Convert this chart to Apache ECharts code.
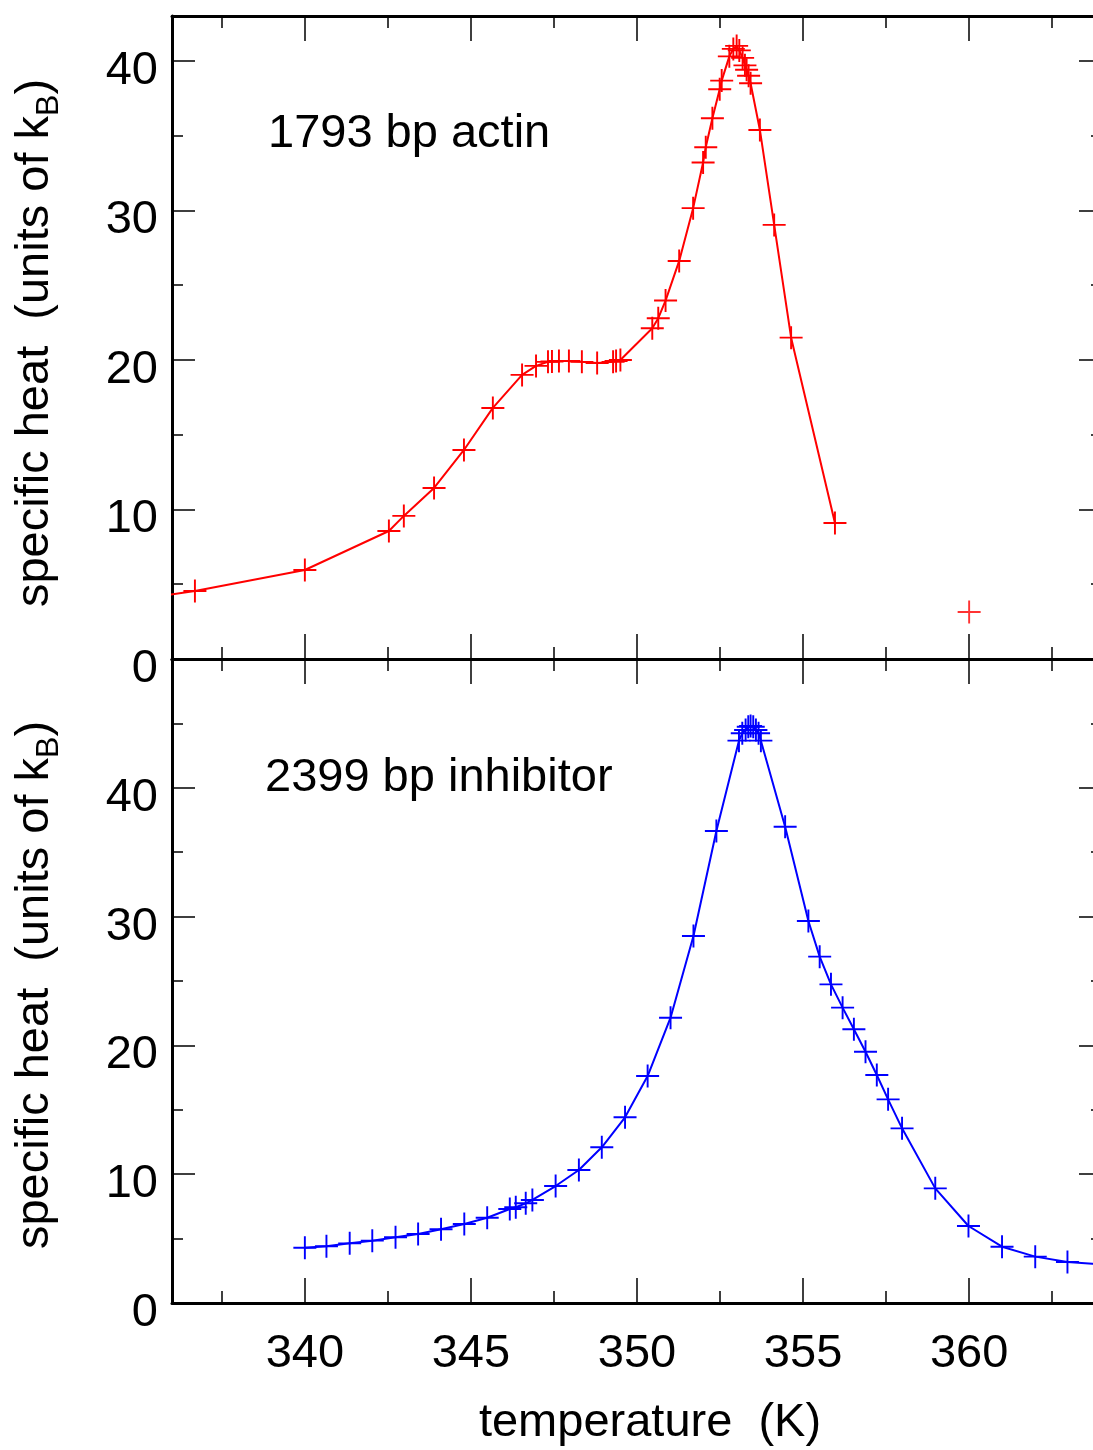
<!DOCTYPE html>
<html>
<head>
<meta charset="utf-8">
<script src="https://cdn.jsdelivr.net/npm/echarts@6/dist/echarts.min.js"></script>
<style>html,body{margin:0;padding:0;background:#fff;overflow:hidden}#c{width:1112px;height:1450px}</style>
</head>
<body>
<div id="c"></div>
<script>
// ---- data ----
const actinTemp = [335.0, 336.69, 340.0, 342.53, 342.98, 343.89, 344.79, 345.66, 346.54, 346.96, 347.32, 347.44, 347.65, 347.95, 348.34, 348.80, 349.28, 349.37, 349.50, 350.46, 350.64, 350.86, 351.27, 351.69, 351.99, 352.07, 352.27, 352.49, 352.55, 352.78, 352.90, 353.00, 353.08, 353.18, 353.25, 353.30, 353.36, 353.42, 353.70, 354.13, 354.64, 355.96];
const actinHeat = [4.0, 4.55, 5.95, 8.56, 9.57, 11.44, 13.98, 16.79, 19.0, 19.6, 19.87, 19.9, 19.93, 19.93, 19.87, 19.8, 19.87, 19.93, 20.0, 22.12, 22.79, 23.97, 26.62, 30.15, 33.2, 34.22, 36.16, 38.1, 38.68, 40.3, 40.8, 41.0, 40.7, 40.2, 39.7, 39.4, 39.0, 38.5, 35.38, 29.03, 21.49, 9.1];
const actinOutlierTemp = [360.0];
const actinOutlierHeat = [3.14];

const inhibTemp = [340.0, 340.65, 341.35, 342.03, 342.73, 343.41, 344.1, 344.8, 345.49, 346.17, 346.35, 346.65, 346.85, 347.55, 348.25, 348.94, 349.64, 350.32, 351.01, 351.7, 352.39, 353.07, 353.17, 353.27, 353.35, 353.42, 353.5, 353.58, 353.66, 353.73, 354.46, 355.16, 355.5, 355.84, 356.19, 356.53, 356.88, 357.22, 357.56, 357.98, 358.98, 359.98, 360.99, 361.99, 362.96, 364.5];
const inhibHeat = [4.29, 4.4, 4.63, 4.84, 5.1, 5.36, 5.72, 6.13, 6.62, 7.3, 7.43, 7.74, 8.0, 9.08, 10.33, 12.09, 14.42, 17.62, 22.15, 28.49, 36.65, 43.66, 44.23, 44.49, 44.74, 44.8, 44.74, 44.49, 44.23, 43.66, 36.98, 29.66, 26.89, 24.74, 22.93, 21.25, 19.51, 17.7, 15.81, 13.56, 8.9, 5.98, 4.37, 3.6, 3.18, 2.9];

const xMajorTicks = [340, 345, 350, 355, 360];
const xMinorTicks = [337.5, 342.5, 347.5, 352.5, 357.5, 362.5];
const xTickLabels = ['340', '345', '350', '355', '360'];
const yTopMajor = [0, 10, 20, 30, 40];
const yTopMinor = [5, 15, 25, 35];
const yBotMajor = [0, 10, 20, 30, 40];
const yBotMinor = [5, 15, 25, 35, 45];
const yLabels = ['0', '10', '20', '30', '40'];

const labelTop = '1793 bp actin';
const labelBottom = '2399 bp inhibitor';
const xTitle = 'temperature  (K)';

// ---- chart ----
const FONT = 'Liberation Sans, Arial, Helvetica, sans-serif';
const FS = 47;
const plus = 'path://M11,0 H13 V11 H24 V13 H13 V24 H11 V13 H0 V11 H11 Z';

function zip(a, b) { return a.map((v, i) => [v, b[i]]); }

const xMin = 336, xMax = 364;
const rects = [
  { left: 172, width: 930, top: 16, height: 643 },
  { left: 172, width: 930, top: 659, height: 644 }
];
// grids 0,1 = main axes; grids 2,3 = overlays carrying the minor ticks
const grids = [rects[0], rects[1], rects[0], rects[1]];
const yMaxes = [43, 50];
const yMajors = [yTopMajor, yBotMajor];
const yMinors = [yTopMinor, yBotMinor];

const xAxes = [], yAxes = [];
const tickStyle = { color: '#000', width: 1.5 };
[0, 1, 2, 3].forEach(g => {
  const p = g % 2;
  const minor = g >= 2;
  const xc = { type: 'value', gridIndex: g, min: xMin, max: xMax, splitLine: { show: false } };
  const axLine = minor ? { show: false, onZero: false } : { show: true, onZero: false, lineStyle: { color: '#000', width: 3 } };
  const xt = { show: true, inside: true, length: minor ? 12 : 25, customValues: minor ? xMinorTicks : xMajorTicks, lineStyle: tickStyle };
  xAxes.push(Object.assign({}, xc, {
    position: 'bottom', axisLine: axLine, axisTick: xt,
    axisLabel: (p === 1 && !minor) ? {
      show: true, customValues: xMajorTicks, margin: 28, fontSize: FS, fontFamily: FONT, color: '#000',
      formatter: v => xTickLabels[xMajorTicks.indexOf(v)]
    } : { show: false }
  }));
  xAxes.push(Object.assign({}, xc, { position: 'top', axisLine: axLine, axisTick: xt, axisLabel: { show: false } }));

  const yc = { type: 'value', gridIndex: g, min: 0, max: yMaxes[p], splitLine: { show: false } };
  const yt = { show: true, inside: true, length: minor ? 11 : 23, customValues: minor ? yMinors[p] : yMajors[p], lineStyle: tickStyle };
  yAxes.push(Object.assign({}, yc, {
    position: 'left', axisLine: axLine, axisTick: yt,
    axisLabel: !minor ? {
      show: true, customValues: yMajors[p], margin: 14, fontSize: FS, fontFamily: FONT, color: '#000',
      verticalAlign: 'top', lineHeight: 20,
      formatter: v => yLabels[yMajors[p].indexOf(v)]
    } : { show: false }
  }));
  yAxes.push(Object.assign({}, yc, { position: 'right', axisLine: axLine, axisTick: yt, axisLabel: { show: false } }));
});

function lineSeries(data, color, xi, yi) {
  return {
    type: 'line', data: data, xAxisIndex: xi, yAxisIndex: yi, clip: true,
    symbol: plus, symbolSize: 23, showAllSymbol: true,
    lineStyle: { color: color, width: 2 },
    itemStyle: { color: color },
    animation: false, silent: true, z: 3
  };
}

const yTitleRich = {
  a: { fontSize: FS, fontFamily: FONT, color: '#000', lineHeight: 60, verticalAlign: 'middle' },
  b: { fontSize: 32, fontFamily: FONT, color: '#000', lineHeight: 32, verticalAlign: 'bottom' }
};
function yTitle(cy) {
  return {
    type: 'text', x: 35, y: cy, rotation: Math.PI / 2, silent: true,
    style: {
      text: '{a|specific heat  (units of k}{b|B}{a|)}', rich: yTitleRich,
      align: 'center', verticalAlign: 'middle'
    }
  };
}

const option = {
  animation: false,
  backgroundColor: '#fff',
  grid: grids,
  xAxis: xAxes,
  yAxis: yAxes,
  series: [
    lineSeries(zip(actinTemp, actinHeat), '#ff0000', 0, 0),
    Object.assign(lineSeries(zip(actinOutlierTemp, actinOutlierHeat), '#ff0000', 0, 0), { type: 'scatter' }),
    lineSeries(zip(inhibTemp, inhibHeat), '#0000ff', 2, 2)
  ],
  graphic: [
    { type: 'text', x: 268, y: 134, silent: true, style: { text: labelTop, fontSize: FS, fontFamily: FONT, fill: '#000', verticalAlign: 'middle' } },
    { type: 'text', x: 265, y: 778, silent: true, style: { text: labelBottom, fontSize: FS, fontFamily: FONT, fill: '#000', verticalAlign: 'middle' } },
    { type: 'text', x: 650, y: 1423, silent: true, style: { text: xTitle, fontSize: FS, fontFamily: FONT, fill: '#000', align: 'center', verticalAlign: 'middle' } },
    yTitle(343),
    yTitle(985)
  ]
};

const chart = echarts.init(document.getElementById('c'), null, { renderer: 'canvas' });
chart.setOption(option);
</script>
</body>
</html>
